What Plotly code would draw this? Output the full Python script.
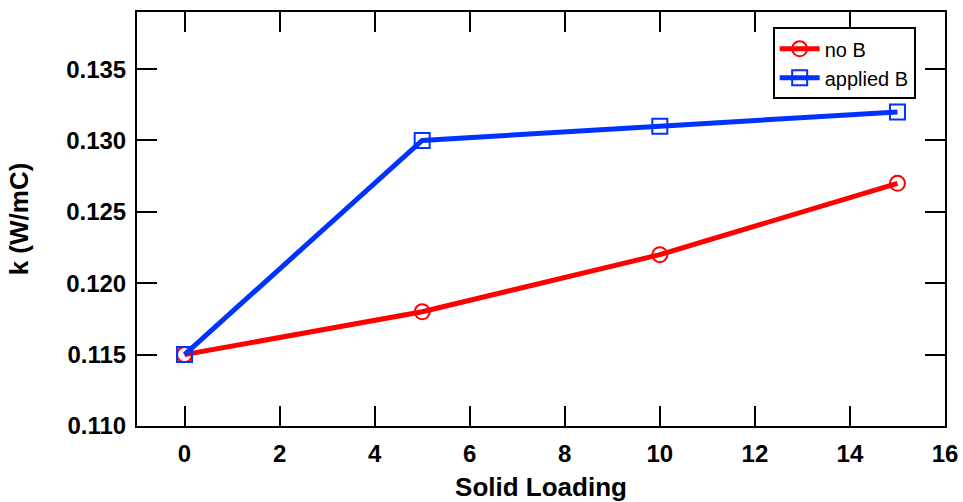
import plotly.graph_objects as go

solid_loading = [0, 5, 10, 15]
k_no_b = [0.115, 0.118, 0.122, 0.127]
k_applied_b = [0.115, 0.130, 0.131, 0.132]
x_ticks = [0, 2, 4, 6, 8, 10, 12, 14, 16]
y_ticks = [0.110, 0.115, 0.120, 0.125, 0.130, 0.135]

FONT = "Liberation Sans, Arial"

fig = go.Figure()
fig.add_trace(go.Scatter(
    x=solid_loading, y=k_no_b, name="no B", mode="lines+markers",
    line=dict(color="#ff0000", width=5),
    marker=dict(symbol="circle-open", size=15, color="#ff0000", line=dict(width=2, color="#ff0000")),
))
fig.add_trace(go.Scatter(
    x=solid_loading, y=k_applied_b, name="applied B", mode="lines+markers",
    line=dict(color="#0033ff", width=5),
    marker=dict(symbol="square-open", size=15, color="#0033ff", line=dict(width=2, color="#0033ff")),
))

axis_common = dict(
    showline=True, linecolor="black", linewidth=2, mirror="ticks",
    ticks="inside", ticklen=20, tickwidth=2, tickcolor="black",
    showgrid=False, zeroline=False, automargin=False,
    tickfont=dict(family=FONT, size=24, color="black", weight="bold"),
)

fig.update_xaxes(
    range=[-1, 16], tickvals=x_ticks, ticktext=[str(v) for v in x_ticks],
    title=dict(text="Solid Loading", font=dict(family=FONT, size=26, color="black", weight="bold"), standoff=12),
    ticklabelstandoff=5,
    **axis_common,
)
fig.update_yaxes(
    range=[0.110, 0.139], tickvals=y_ticks, ticktext=[f"{v:.3f}" for v in y_ticks],
    title=dict(text="k (W/mC)", font=dict(family=FONT, size=26, color="black", weight="bold"), standoff=30),
    ticklabelstandoff=4,
    **axis_common,
)

fig.update_layout(
    width=963, height=502,
    margin=dict(l=137, r=18, t=12, b=76),
    plot_bgcolor="white", paper_bgcolor="white",
    showlegend=True,
    legend=dict(
        x=0.9637, y=0.963, xanchor="right", yanchor="top",
        bordercolor="black", borderwidth=2, bgcolor="white",
        font=dict(family=FONT, size=20, color="black"),
        itemwidth=40, tracegroupgap=0,
    ),
)

fig.write_html("out.html")
